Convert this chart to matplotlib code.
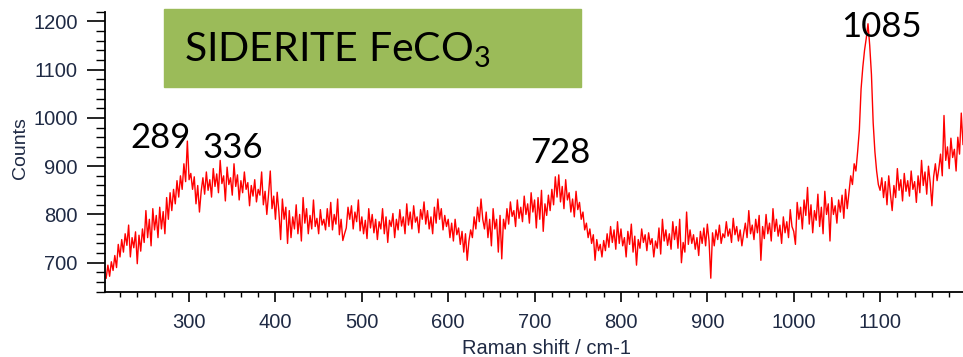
#!/usr/bin/env python3

import numpy as np
import matplotlib
matplotlib.use("Agg")
import matplotlib.pyplot as plt
from matplotlib.ticker import MultipleLocator

# Raman shift sampled every 2 cm-1 from 204 to 1196
shift = np.arange(204, 1197, 2)

# counts, one list per 100 cm-1
counts_204 = [668, 695, 672, 702, 684, 715, 690, 738, 712, 748,
              722, 760, 736, 778, 712, 752, 731, 764, 698, 757,
              724, 770, 742, 808, 752, 790, 735, 812, 768, 798,
              752, 815, 770, 806, 760, 835, 790, 845, 808, 852,
              822, 870, 836, 880, 852, 905, 868, 952, 872, 885]
counts_304 = [852, 878, 822, 860, 805, 848, 876, 842, 888, 850,
              872, 836, 895, 858, 884, 845, 912, 864, 880, 828,
              898, 862, 876, 840, 905, 858, 882, 830, 870, 845,
              888, 852, 866, 818, 860, 838, 872, 826, 852, 840,
              888, 820, 848, 800, 842, 890, 812, 838, 790, 846]
counts_404 = [805, 748, 832, 790, 815, 740, 808, 752, 795, 770,
              820, 760, 800, 745, 835, 782, 812, 760, 798, 770,
              830, 775, 792, 760, 810, 778, 790, 768, 812, 775,
              825, 768, 800, 780, 832, 758, 790, 746, 760, 772,
              815, 790, 818, 770, 805, 785, 830, 766, 795, 760]
counts_504 = [788, 750, 812, 772, 800, 762, 790, 748, 785, 770,
              812, 760, 795, 742, 788, 775, 802, 752, 790, 768,
              810, 776, 795, 760, 822, 778, 805, 770, 818, 784,
              795, 762, 810, 790, 826, 780, 808, 770, 795, 760,
              815, 782, 832, 790, 812, 768, 798, 775, 790, 752]
counts_604 = [782, 745, 790, 758, 772, 738, 765, 722, 760, 705,
              745, 768, 752, 795, 770, 815, 785, 832, 790, 770,
              805, 752, 790, 735, 812, 770, 790, 722, 798, 708,
              790, 770, 812, 780, 826, 796, 808, 775, 830, 792,
              815, 785, 838, 800, 822, 782, 845, 805, 830, 772]
counts_704 = [835, 790, 850, 765, 822, 798, 840, 808, 852, 820,
              878, 836, 882, 826, 858, 812, 872, 830, 845, 805,
              832, 795, 848, 810, 825, 790, 805, 768, 782, 752,
              770, 740, 758, 705, 748, 725, 738, 712, 746, 725,
              760, 732, 775, 742, 768, 728, 785, 740, 770, 735]
counts_804 = [752, 712, 765, 738, 780, 722, 755, 695, 748, 730,
              770, 742, 758, 725, 762, 738, 750, 712, 745, 730,
              772, 718, 790, 745, 768, 736, 760, 728, 785, 748,
              775, 730, 790, 700, 742, 722, 805, 738, 768, 740,
              758, 728, 752, 715, 765, 740, 772, 735, 780, 745]
counts_904 = [668, 762, 735, 768, 748, 778, 740, 760, 752, 785,
              755, 770, 742, 792, 758, 775, 745, 768, 735, 760,
              782, 752, 808, 760, 778, 748, 790, 762, 798, 705,
              775, 750, 800, 760, 782, 745, 812, 765, 790, 755,
              778, 740, 795, 762, 785, 752, 810, 775, 765, 738]
counts_1004 = [825, 790, 815, 770, 830, 798, 856, 780, 820, 762,
               808, 788, 842, 775, 815, 760, 848, 800, 822, 745,
               835, 800, 818, 782, 830, 805, 840, 792, 852, 812,
               845, 880, 862, 905, 890, 930, 975, 1060, 1105, 1140,
               1165, 1195, 1150, 1090, 990, 930, 890, 862, 850, 876]
counts_1104 = [835, 868, 820, 880, 842, 808, 860, 835, 895, 850,
               872, 828, 885, 848, 870, 838, 890, 852, 868, 825,
               880, 845, 912, 860, 888, 842, 900, 866, 818, 878,
               905, 870, 895, 925, 880, 1005, 912, 940, 895, 958,
               918, 935, 890, 960, 925, 1010, 945]

counts = (counts_204 + counts_304 + counts_404 + counts_504 + counts_604
          + counts_704 + counts_804 + counts_904 + counts_1004 + counts_1104)

peak_labels = ["289", "336", "728", "1085"]

W, H = 963, 357
fig = plt.figure(figsize=(W / 100, H / 100), dpi=100)
ax = fig.add_axes([105.3 / W, 1 - 291.7 / H, (W - 105.3) / W, (291.7 - 11.7) / H])

ax.plot(shift, counts, color="red", lw=1.0)
ax.set_xlim(203, 1196)
ax.set_ylim(640, 1220)

ax.xaxis.set_major_locator(MultipleLocator(100))
ax.xaxis.set_minor_locator(MultipleLocator(20))
ax.yaxis.set_major_locator(MultipleLocator(100))
ax.yaxis.set_minor_locator(MultipleLocator(20))
ax.set_xticks(range(300, 1101, 100))
ax.set_yticks(range(700, 1201, 100))

for s in ["top", "right"]:
    ax.spines[s].set_visible(False)
for s in ["left", "bottom"]:
    ax.spines[s].set_linewidth(1.3)

lab = "#1f2a44"
ax.tick_params(axis="y", which="major", length=13, width=1.2, pad=7,
               labelsize=14.5, labelcolor=lab)
ax.tick_params(axis="y", which="minor", length=6.5, width=1.0)
ax.tick_params(axis="x", which="major", length=7, width=1.2, pad=8,
               labelsize=14.5, labelcolor=lab)
ax.tick_params(axis="x", which="minor", length=3.5, width=1.0)
for t in ax.get_xticklabels() + ax.get_yticklabels():
    t.set_family(["Liberation Sans", "DejaVu Sans"])

fig.text(20 / W, 1 - 148 / H, "Counts", rotation=90, ha="center", va="center",
         fontsize=14, color=lab, family=["Liberation Sans", "DejaVu Sans"])
fig.text(546 / W, 1 - 348 / H, "Raman shift / cm-1", ha="center", va="center",
         fontsize=14.5, color=lab, family=["Liberation Sans", "DejaVu Sans"])

# title box
plt.rcParams["mathtext.fontset"] = "custom"
plt.rcParams["mathtext.rm"] = "Lato"
box = plt.Rectangle((164 / W, 1 - 87 / H), (581 - 164) / W, (87 - 9) / H,
                    transform=fig.transFigure, color="#9bbb59", zorder=3)
fig.add_artist(box)
fig.text(184 / W, 1 - 50 / H, r"SIDERITE FeCO$_\mathregular{3}$", ha="left",
         va="center", fontsize=29.5, family="Lato", color="black", zorder=4)

# peak labels
pos = [(160, 138), (233, 148), (560, 153), (881, 27)]
for txt, (px, py) in zip(peak_labels, pos):
    fig.text(px / W, 1 - py / H, txt, ha="center", va="center", fontsize=25,
             family="Lato", color="black", zorder=4)

fig.savefig("out.png", dpi=100)
